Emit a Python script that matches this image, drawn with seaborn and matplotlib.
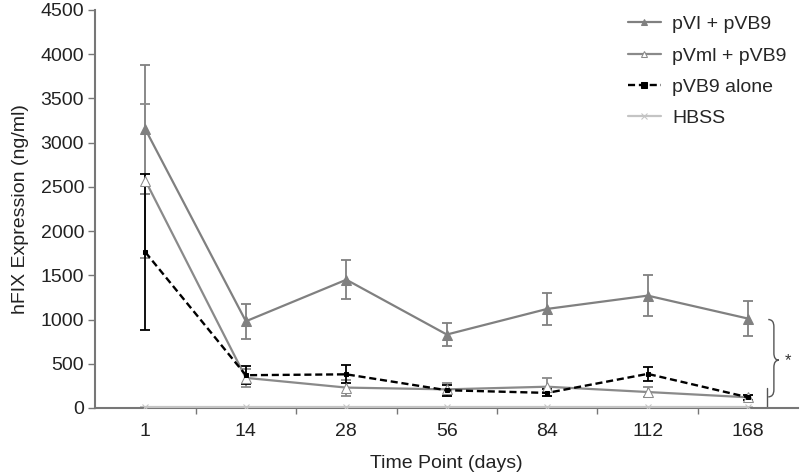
import numpy as np
import pandas as pd
import matplotlib
matplotlib.use("Agg")
import matplotlib.pyplot as plt
import seaborn as sns
from matplotlib.path import Path
from matplotlib.patches import PathPatch

# values
days = ["1", "14", "28", "56", "84", "112", "168"]
groups = ["pVI + pVB9", "pVml + pVB9", "pVB9 alone", "HBSS"]
pvi_mean = [3150, 980, 1450, 830, 1120, 1270, 1010]
pvi_err = [730, 200, 220, 135, 185, 235, 200]
pvml_mean = [2570, 340, 230, 210, 240, 180, 120]
pvml_err = [870, 100, 90, 70, 100, 60, 30]
pvb9_mean = [1760, 370, 380, 200, 170, 385, 120]
pvb9_err = [880, 100, 100, 60, 40, 80, 30]
hbss_mean = [10, 10, 10, 10, 10, 10, 10]
hbss_err = [5, 5, 5, 5, 5, 5, 5]

means = [pvi_mean, pvml_mean, pvb9_mean, hbss_mean]
errs = [pvi_err, pvml_err, pvb9_err, hbss_err]

df = pd.concat([
    pd.DataFrame({"pos": np.arange(len(days)), "day": days, "value": m, "err": e, "group": g})
    for g, m, e in zip(groups, means, errs)
])

sns.set_style("white")
plt.rcParams['font.family'] = ['Liberation Sans', 'DejaVu Sans']

styles = {
    "pVI + pVB9": dict(color="#808080", marker="^", mfc="#808080", ls="-", lw=1.6, ms=7),
    "pVml + pVB9": dict(color="#8a8a8a", marker="^", mfc="white", ls="-", lw=1.6, ms=7),
    "pVB9 alone": dict(color="black", marker="s", mfc="black", ls=(0, (3, 1.6)), lw=1.7, ms=3),
    "HBSS": dict(color="#c4c4c4", marker="x", mfc="#c4c4c4", ls="-", lw=1.6, ms=5),
}
fs = 14

fig = plt.figure(figsize=(8, 4.76), dpi=100)
ax = fig.add_axes([0.119, 0.143, 0.879, 0.836])

for g in groups:
    sub = df[df.group == g]
    st = styles[g]
    ax.errorbar(sub.pos, sub.value, yerr=sub.err, fmt="none", ecolor=st["color"],
                elinewidth=1.3, capsize=3.5, capthick=1.3, zorder=2)
    sns.lineplot(data=sub, x="pos", y="value", ax=ax, label=g, color=st["color"],
                 marker=st["marker"], markerfacecolor=st["mfc"], markeredgecolor=st["color"],
                 markersize=st["ms"], linestyle=st["ls"], linewidth=st["lw"], zorder=3)

ax.set_xlim(-0.5, 6.5)
ax.set_ylim(0, 4500)
ax.set_yticks(np.arange(0, 4501, 500))
ax.set_xticks(np.arange(len(days)))
ax.set_xticklabels(days)
ax.set_xticks(np.arange(0.5, 6.0, 1.0), minor=True)
ax.tick_params(axis="x", which="major", length=0, labelsize=fs, pad=11, labelcolor="#222222")
ax.tick_params(axis="x", which="minor", length=4, width=1, direction="out", color="#777777", bottom=True)
ax.tick_params(axis="y", length=5, width=1, direction="out", labelsize=fs, color="#777777",
               labelcolor="#222222", left=True, pad=3)
ax.set_xlabel("Time Point (days)", fontsize=fs, color="#222222", labelpad=11)
ax.set_ylabel("hFIX Expression (ng/ml)", fontsize=fs, color="#222222", labelpad=8)

for s in ["top", "right"]:
    ax.spines[s].set_visible(False)
for s in ["left", "bottom"]:
    ax.spines[s].set_color("#777777")
    ax.spines[s].set_linewidth(1.5)

# significance brace
x0, xm, x1 = 6.20, 6.256, 6.306
ytop, ymid, ybot = 1000, 540, 125
r = 80
verts = [(x0, ytop), (xm, ytop), (xm, ytop - r),
         (xm, ymid + r),
         (xm, ymid), (x1, ymid),
         (xm, ymid), (xm, ymid - r),
         (xm, ybot + r),
         (xm, ybot), (x0, ybot)]
codes = [Path.MOVETO, Path.CURVE3, Path.CURVE3, Path.LINETO, Path.CURVE3, Path.CURVE3,
         Path.CURVE3, Path.CURVE3, Path.LINETO, Path.CURVE3, Path.CURVE3]
ax.add_patch(PathPatch(Path(verts, codes), fill=False, edgecolor="#555555", lw=1))
ax.plot([x0 - 0.01, x0 - 0.01], [0, 230], color="#555555", lw=1)
ax.text(6.40, ymid, "*", fontsize=12, ha="center", va="center", color="#333333")

leg = ax.legend(loc="upper right", frameon=False, fontsize=fs, handlelength=1.7,
                handletextpad=0.6, labelspacing=0.7, borderaxespad=0.2,
                bbox_to_anchor=(1.0, 1.015))
for h in leg.legend_handles:
    h.set_markersize(4)

fig.savefig("out.png", dpi=100)
